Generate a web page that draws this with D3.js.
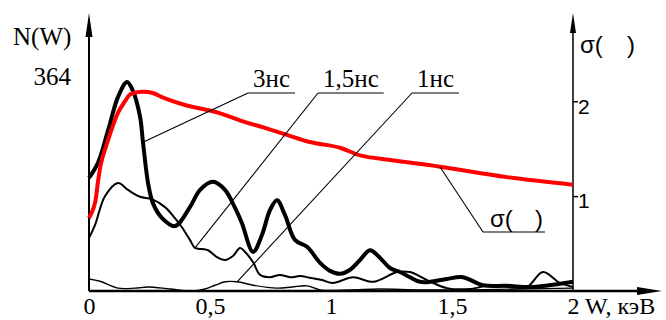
<!DOCTYPE html>
<html>
<head>
<meta charset="utf-8">
<script src="https://cdn.jsdelivr.net/npm/d3@7"></script>
<style>
  body { margin: 0; background: #fff; }
  svg { display: block; }
</style>
</head>
<body>
<svg id="chart" width="666" height="320"></svg>
<script>
// energy W (keV) and N(W) for each pulse length, sigma on the right axis
const w3 = [0, 0.037, 0.079, 0.12, 0.157, 0.18, 0.211, 0.223, 0.244, 0.264, 0.302, 0.355, 0.417, 0.459, 0.512, 0.562, 0.603, 0.632, 0.678, 0.715, 0.748, 0.777, 0.81, 0.851, 0.901, 0.955, 0.996, 1.037, 1.079, 1.12, 1.161, 1.202, 1.244, 1.285, 1.326, 1.368, 1.41, 1.479, 1.545, 1.628, 1.727, 1.822, 1.9, 2.0];
const n3 = [197, 223, 280, 338, 364, 350, 303, 259, 188, 153, 127, 113, 146, 176, 190, 176, 145, 118, 68, 98, 141, 158, 132, 89, 77, 49, 35, 30, 37, 54, 71, 58, 40, 33, 24, 16, 16, 21, 24, 10, 9, 7, 10, 16];

const w15 = [0, 0.025, 0.066, 0.12, 0.161, 0.211, 0.26, 0.314, 0.355, 0.384, 0.417, 0.438, 0.467, 0.492, 0.529, 0.562, 0.595, 0.624, 0.645, 0.678, 0.707, 0.748, 0.789, 0.831, 0.872, 0.913, 0.963, 1.008, 1.091, 1.174, 1.273, 1.326, 1.397, 1.479, 1.574, 1.657, 1.74, 1.81, 1.876, 1.946, 2.0];
const n15 = [92, 115, 165, 188, 176, 164, 160, 146, 127, 111, 89, 75, 73, 71, 59, 54, 61, 75, 68, 50, 28, 24, 28, 24, 26, 23, 19, 14, 24, 16, 33, 33, 19, 5, 3.5, 10, 7, 7, 33, 14, 7];

const w1 = [0, 0.045, 0.12, 0.19, 0.244, 0.335, 0.426, 0.479, 0.521, 0.562, 0.612, 0.678, 0.777, 0.839, 0.901, 0.955, 1.08, 1.2, 1.37, 1.57, 1.78, 2.0];
const n1 = [21, 17, 5, 5, 7, 3.5, 0, 3.5, 10, 16, 16, 10, 5, 7, 9, 2, 2, 3.5, 2, 2, 3.5, 5];

const wSigma = [0, 0.012, 0.025, 0.037, 0.05, 0.066, 0.12, 0.149, 0.169, 0.219, 0.26, 0.314, 0.397, 0.533, 0.645, 0.727, 0.818, 0.913, 1.037, 1.12, 1.244, 1.45, 1.727, 2.0];
const sigma = [0.77, 0.83, 0.93, 1.15, 1.35, 1.49, 1.88, 2.0, 2.07, 2.1, 2.09, 2.03, 1.96, 1.88, 1.78, 1.72, 1.645, 1.57, 1.51, 1.43, 1.38, 1.31, 1.2, 1.12];

const xTicks = [0, 0.5, 1, 1.5, 2];
const nTicks = [364];
const sigmaTicks = [1, 2];
const seriesLabels = ['3нс', '1,5нс', '1нс'];
const leaderW = [0.223, 0.438, 0.612];   // where each leader touches its curve
const sigmaLeaderW = 1.45;

const serif = 'Liberation Serif, serif';
const sans = 'Liberation Sans, sans-serif';

const svg = d3.select('#chart');
const margin = {top: 13, right: 93, bottom: 29, left: 89};
const width = 666 - margin.left - margin.right;
const height = 320 - margin.top - margin.bottom;
const g = svg.append('g').attr('transform', `translate(${margin.left},${margin.top})`);

const x = d3.scaleLinear().domain([0, 2]).range([0, width]);
const yN = d3.scaleLinear().domain([0, 484]).range([height, 0]);
const yS = d3.scaleLinear().domain([0, 2.93]).range([height, 0]);

const lineN = d3.line().x(d => x(d[0])).y(d => yN(d[1])).curve(d3.curveCatmullRom.alpha(0.5));
const lineS = d3.line().x(d => x(d[0])).y(d => yS(d[1])).curve(d3.curveCatmullRom.alpha(0.5));

// axes
g.append('line').attr('x1', 0).attr('x2', width + 66).attr('y1', height).attr('y2', height)
  .attr('stroke', '#000').attr('stroke-width', 2.5);
g.append('path').attr('d', `M${width + 89},${height} L${width + 64},${height - 4} L${width + 64},${height + 4} Z`);
g.append('line').attr('x1', 0).attr('x2', 0).attr('y1', height).attr('y2', 20)
  .attr('stroke', '#000').attr('stroke-width', 2);
g.append('path').attr('d', 'M0,0 L-3.5,24 L3.5,24 Z');
g.append('line').attr('x1', width).attr('x2', width).attr('y1', height).attr('y2', 16)
  .attr('stroke', '#000').attr('stroke-width', 1.5);
g.append('path').attr('d', `M${width},0 L${width - 3},20 L${width + 3},20 Z`);

const xAxis = g.append('g')
  .attr('transform', `translate(0,${height})`)
  .call(d3.axisBottom(x).tickValues(xTicks).tickSize(0).tickPadding(7)
    .tickFormat(d => d === 2 ? '2 W, кэВ' : String(d).replace('.', ',')));
xAxis.select('.domain').remove();
xAxis.selectAll('text').style('font-family', serif).style('font-size', '24px').attr('dy', '0.68em');
xAxis.selectAll('text').filter(d => d === 2).attr('text-anchor', 'start').attr('dx', -6);

const nAxis = g.append('g')
  .call(d3.axisLeft(yN).tickValues(nTicks).tickSize(0).tickPadding(18));
nAxis.select('.domain').remove();
nAxis.selectAll('text').style('font-family', serif).style('font-size', '25px').attr('dy', '0.12em');

const sAxis = g.append('g')
  .attr('transform', `translate(${width},0)`)
  .call(d3.axisRight(yS).tickValues(sigmaTicks).tickSize(5).tickPadding(0).tickFormat(d3.format('d')));
sAxis.select('.domain').remove();
sAxis.selectAll('text').style('font-family', sans).style('font-size', '21px').attr('dy', '0.56em');
sAxis.selectAll('line').attr('stroke-width', 1.5);

function label(parent, px, py, txt, fam, size) {
  return parent.append('text').attr('x', px).attr('y', py)
    .style('font-family', fam).style('font-size', size + 'px').text(txt);
}

label(svg, 13, 45, 'N(W)', serif, 25);
label(svg, 580, 53, 'σ(', sans, 24);
label(svg, 627, 53, ')', sans, 24);

// curves
const curves = [
  {w: w1, v: n1, width: 1.4},
  {w: w15, v: n15, width: 2},
  {w: w3, v: n3, width: 4}
].map(c => g.append('path')
  .datum(d3.zip(c.w, c.v))
  .attr('fill', 'none')
  .attr('stroke', '#000')
  .attr('stroke-width', c.width)
  .attr('stroke-linejoin', 'round')
  .attr('d', lineN));

const redPath = g.append('path')
  .datum(d3.zip(wSigma, sigma))
  .attr('fill', 'none')
  .attr('stroke', '#ff0000')
  .attr('stroke-width', 4)
  .attr('d', lineS);

// point on a drawn path at a given x
function pointAt(path, px) {
  const node = path.node();
  let lo = 0, hi = node.getTotalLength();
  for (let i = 0; i < 40; i++) {
    const mid = (lo + hi) / 2;
    if (node.getPointAtLength(mid).x < px) lo = mid; else hi = mid;
  }
  return node.getPointAtLength(lo);
}

// leader labels: 3нс, 1,5нс, 1нс
const labelX = [164, 234, 328];
const labelY = 74;
const lines3 = [curves[2], curves[1], curves[0]];
seriesLabels.forEach((lab, i) => {
  const t = label(g, labelX[i], labelY, lab, serif, 25);
  const len = t.node().getComputedTextLength();
  const x0 = labelX[i] - 5, x1 = labelX[i] + len + 5;
  g.append('line').attr('x1', x0).attr('x2', x1).attr('y1', labelY + 6).attr('y2', labelY + 6)
    .attr('stroke', '#000').attr('stroke-width', 1.2);
  const p = pointAt(lines3[i], x(leaderW[i]));
  g.append('line').attr('x1', x0).attr('y1', labelY + 6).attr('x2', p.x).attr('y2', p.y)
    .attr('stroke', '#000').attr('stroke-width', 1.1);
});

// sigma leader
const ps = pointAt(redPath, x(sigmaLeaderW));
g.append('line').attr('x1', 394).attr('x2', 456).attr('y1', 219).attr('y2', 219)
  .attr('stroke', '#000').attr('stroke-width', 1.2);
g.append('line').attr('x1', 394).attr('y1', 219).attr('x2', ps.x).attr('y2', ps.y)
  .attr('stroke', '#000').attr('stroke-width', 1.1);
label(g, 401, 214, 'σ(', sans, 24);
label(g, 446, 214, ')', sans, 24);
</script>
</body>
</html>
